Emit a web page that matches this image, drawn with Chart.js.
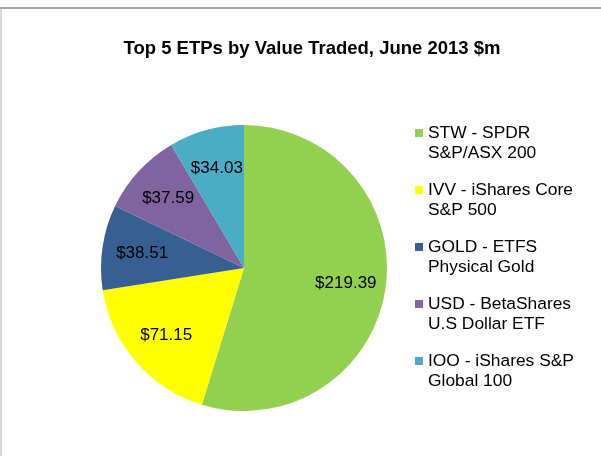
<!DOCTYPE html>
<html>
<head>
<meta charset="utf-8">
<title>Top 5 ETPs by Value Traded</title>
<script src="https://cdn.jsdelivr.net/npm/chart.js@4/dist/chart.umd.min.js"></script>
<style>
  html, body { margin: 0; padding: 0; background: #fff; }
  #wrap { position: relative; width: 601px; height: 456px; }
</style>
</head>
<body>
<div id="wrap"><canvas id="etpChart" width="601" height="456"></canvas></div>
<script>
// data
const tickers = ['STW', 'IVV', 'GOLD', 'USD', 'IOO'];
const legendLines = [
  ['STW - SPDR', 'S&P/ASX 200'],
  ['IVV - iShares Core', 'S&P 500'],
  ['GOLD - ETFS', 'Physical Gold'],
  ['USD - BetaShares', 'U.S Dollar ETF'],
  ['IOO - iShares S&P', 'Global 100']
];
const valueTraded = [219.39, 71.15, 38.51, 37.59, 34.03];
const sliceColors = ['#92D050', '#FFFF00', '#376092', '#8064A2', '#4BACC6'];

const FONT = 'Arial, "Liberation Sans", sans-serif';

// frame lines (top + left edge of the original chart box)
const framePlugin = {
  id: 'frame',
  beforeDraw(chart) {
    const ctx = chart.ctx;
    ctx.save();
    ctx.fillStyle = '#fff';
    ctx.fillRect(0, 0, chart.width, chart.height);
    ctx.fillStyle = '#a6a6a6';
    ctx.fillRect(0, 7, chart.width, 2);
    ctx.fillStyle = '#d9d9d9';
    ctx.fillRect(0, 9, 2, chart.height - 9);
    ctx.restore();
  }
};

// title + side legend drawn by hand
const sideLegend = {
  id: 'sideLegend',
  afterDraw(chart) {
    const ctx = chart.ctx;
    ctx.save();
    ctx.fillStyle = '#000';
    ctx.font = 'bold 18.5px ' + FONT;
    ctx.textAlign = 'center';
    ctx.textBaseline = 'middle';
    ctx.fillText('Top 5 ETPs by Value Traded, June 2013 $m', 312, 49);

    ctx.font = '17.4px ' + FONT;
    ctx.textAlign = 'left';
    const ds = chart.data.datasets[0];
    chart.data.labels.forEach((lines, i) => {
      const y = 133 + i * 57;
      ctx.fillStyle = ds.backgroundColor[i];
      ctx.fillRect(415, y - 4, 8, 8);
      ctx.fillStyle = '#000';
      lines.forEach((t, j) => ctx.fillText(t, 428, y + j * 20));
    });
    ctx.restore();
  }
};

// "$xx.xx" labels inside slices
const sliceLabels = {
  id: 'sliceLabels',
  afterDatasetsDraw(chart) {
    const ctx = chart.ctx;
    const meta = chart.getDatasetMeta(0);
    ctx.save();
    ctx.font = '17px ' + FONT;
    ctx.fillStyle = '#000';
    ctx.textAlign = 'center';
    ctx.textBaseline = 'middle';
    meta.data.forEach((arc, i) => {
      const p = arc.getProps(['x', 'y', 'startAngle', 'endAngle', 'outerRadius'], true);
      const mid = (p.startAngle + p.endAngle) / 2;
      const r = p.outerRadius * 0.72;
      ctx.fillText('$' + valueTraded[i].toFixed(2), p.x + Math.cos(mid) * r, p.y + Math.sin(mid) * r);
    });
    ctx.restore();
  }
};

new Chart(document.getElementById('etpChart'), {
  type: 'pie',
  data: {
    labels: legendLines,
    datasets: [{
      data: valueTraded,
      backgroundColor: sliceColors,
      borderWidth: 0
    }]
  },
  options: {
    responsive: false,
    animation: false,
    layout: { padding: { left: 101, right: 214, top: 125, bottom: 45 } },
    plugins: {
      legend: { display: false },
      title: { display: false },
      tooltip: { enabled: false }
    }
  },
  plugins: [framePlugin, sliceLabels, sideLegend]
});
</script>
</body>
</html>
